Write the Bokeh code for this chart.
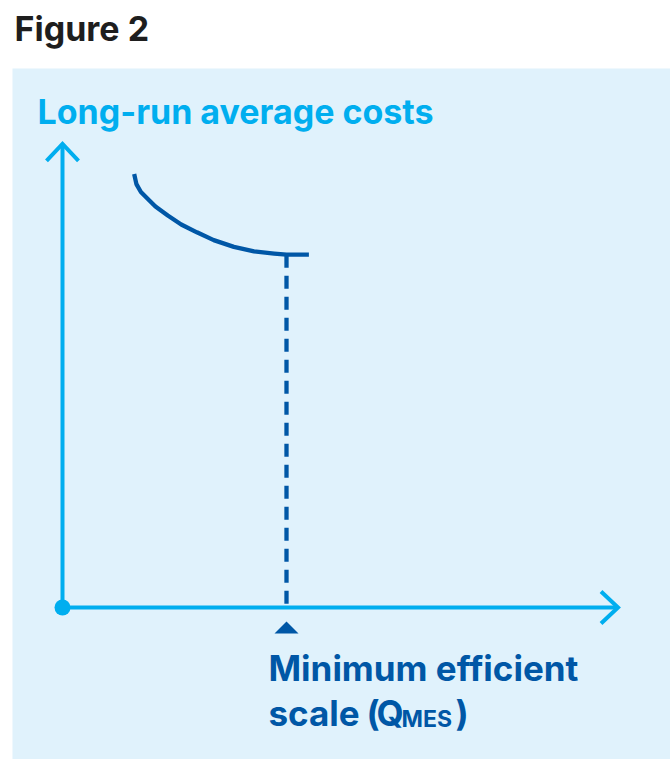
from bokeh.plotting import figure
from bokeh.models import Range1d, Label
from bokeh.embed import file_html
from bokeh.resources import INLINE

# ---- data (schematic units) ----
Q = [3.2, 3.3, 3.5, 3.8, 4.15, 4.7, 5.3, 6.0, 6.75, 7.65, 8.55, 9.45, 10.0, 11.0]
LRAC = [19.35, 18.9, 18.55, 18.25, 17.9, 17.5, 17.1, 16.75, 16.4, 16.1, 15.9, 15.8, 15.75, 15.75]
Q_MES = 10.0
LRAC_MIN = 15.75
X_AXIS_END = 24.8
Y_AXIS_END = 20.7

TITLE = "Figure 2"
Y_LABEL = "Long-run average costs"
X_LABEL_1 = "Minimum efficient"
X_LABEL_2 = "scale"
X_LABEL_OPEN = "("
X_LABEL_Q = "Q"
X_LABEL_SUB = "MES"
X_LABEL_END = ")"

# ---- styling ----
PANEL = "#E0F2FC"
CYAN = "#00AEEF"
DARK = "#0057A6"
BLACK = "#1E1E1E"
FONT = "Inter"

W, H = 670, 759
PAGE_X0, PAGE_Y0 = 0, 0
S = 22.4          # pixels per unit
OX, OY = 62, 607  # page position of origin
TXT = -12         # baseline correction for labels


def ux(px):
    return (px - OX) / S


def uy(py):
    return (OY - py) / S


p = figure(width=W, height=H, output_backend="svg", toolbar_location=None,
           x_range=Range1d(ux(PAGE_X0), ux(PAGE_X0 + W)),
           y_range=Range1d(uy(PAGE_Y0 + H), uy(PAGE_Y0)),
           min_border=0, outline_line_color=None,
           background_fill_color="white", border_fill_color="white")
p.axis.visible = False
p.grid.visible = False

# panel
p.quad(left=[ux(12)], right=[ux(PAGE_X0 + W) + 1], top=[uy(68)],
       bottom=[uy(PAGE_Y0 + H) - 1], fill_color=PANEL, line_color=None)

# axes
p.line([0, 0], [0, Y_AXIS_END], line_color=CYAN, line_width=4)
p.line([0, X_AXIS_END], [0, 0], line_color=CYAN, line_width=4)
aw, al = 16 / S, 17 / S
p.multi_line([[-aw, 0, aw], [X_AXIS_END - al, X_AXIS_END, X_AXIS_END - al]],
             [[Y_AXIS_END - al, Y_AXIS_END, Y_AXIS_END - al], [aw, 0, -aw]],
             line_color=CYAN, line_width=4, line_join="miter")
p.scatter([0], [0], size=16, marker="circle", fill_color=CYAN, line_color=None)

# dashed drop line
p.line([Q_MES, Q_MES], [LRAC_MIN, 0], line_color=DARK, line_width=4.3, line_dash="13 8")

# LRAC curve
p.line(Q, LRAC, line_color=DARK, line_width=4.3, line_join="round")

# triangle marker below axis
tw, tb, tt = 12 / S, 14 / S + 12 / S, 14 / S
p.patch([Q_MES - tw, Q_MES + tw, Q_MES], [-tb, -tb, -tt], fill_color=DARK, line_color=None)


# texts
def lab(x, y, t, size, color):
    p.add_layout(Label(x=ux(x), y=uy(y + TXT), text=t, text_font=FONT,
                       text_font_size=size, text_font_style="bold", text_color=color,
                       text_baseline="alphabetic", text_align="left"))


lab(14, 40, TITLE, "34px", BLACK)
lab(37, 123, Y_LABEL, "34px", CYAN)
lab(268, 679, X_LABEL_1, "35px", DARK)
lab(268, 724, X_LABEL_2, "35px", DARK)
lab(366, 724, X_LABEL_OPEN, "35px", DARK)
lab(376, 724, X_LABEL_Q, "35px", DARK)
lab(401, 730, X_LABEL_SUB, "23px", DARK)
lab(455, 724, X_LABEL_END, "35px", DARK)

open("out.html", "w").write(file_html(p, INLINE))
